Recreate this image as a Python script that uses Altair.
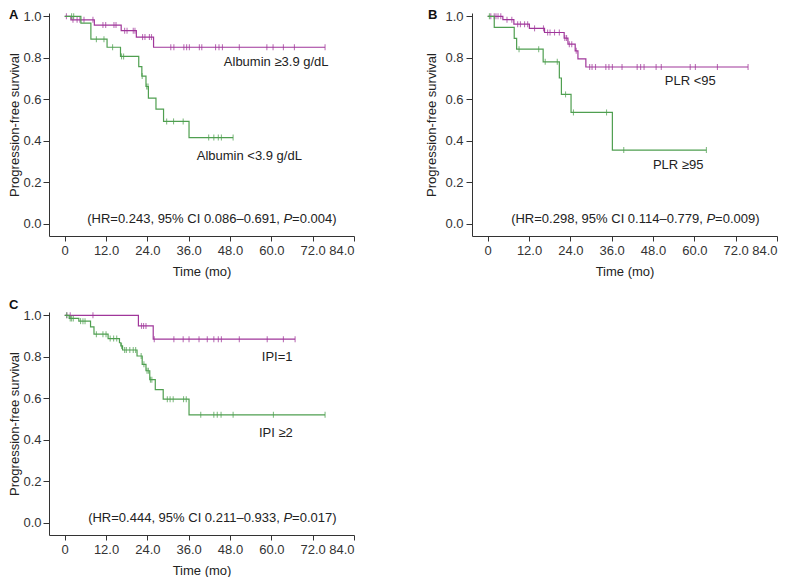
import altair as alt
import pandas as pd

PURPLE = "#A0369A"
GREEN = "#4F9F50"
FONT = "Liberation Sans"

# ---------------- Panel A : Albumin ----------------
a_hi_event_t = [1.8, 8.6, 16.4, 20.8, 25.8]
a_hi_event_s = [0.983, 0.958, 0.931, 0.900, 0.851]
a_hi_censor_t = [0.5, 2.4, 3.6, 4.4, 5.6, 8.2, 11.1, 11.9, 14.3, 14.9, 17.4, 18.1, 19.9,
                 20.4, 22.6, 23.3, 24.6, 25.2, 30.8, 31.7, 34.6, 35.4, 36.2, 39.1, 39.8,
                 43.8, 44.8, 45.8, 50.7, 58.7, 60.5, 63.5, 66.7, 75.6]
a_lo_event_t = [4.7, 7.6, 12.3, 16.2, 21.5, 22.4, 23.6, 24.3, 26.5, 28.7, 36.1]
a_lo_event_s = [0.967, 0.890, 0.851, 0.807, 0.758, 0.712, 0.662, 0.606, 0.553, 0.494, 0.416]
a_lo_censor_t = [2.0, 2.6, 9.2, 11.4, 13.9, 16.5, 17.1, 22.5, 23.8, 24.2, 29.6, 31.6, 34.4,
                 41.8, 43.3, 44.6, 45.5, 48.9]
a_labels = ["Albumin \u22653.9 g/dL", "Albumin <3.9 g/dL"]
a_hr = ["(HR=0.243, 95% CI 0.086\u20130.691,", "P", "=0.004)"]

# ---------------- Panel B : PLR ----------------
b_hi_event_t = [4.4, 7.6, 12.1, 16.5, 22.2, 23.3, 25.4, 26.2, 28.5]
b_hi_event_s = [0.984, 0.962, 0.942, 0.922, 0.895, 0.866, 0.834, 0.795, 0.756]
b_hi_censor_t = [0.9, 1.9, 2.4, 3.0, 3.8, 5.6, 7.0, 8.7, 9.5, 10.7, 11.6, 13.6, 16.2, 17.4,
                 18.1, 19.4, 20.8, 22.4, 22.9, 23.7, 24.4, 25.7, 29.6, 30.3, 31.3, 34.3,
                 35.2, 36.2, 39.0, 43.4, 44.4, 45.4, 48.9, 50.4, 58.8, 60.3, 66.7, 75.6]
b_lo_event_t = [1.9, 7.7, 8.4, 16.1, 20.8, 21.4, 24.2, 36.2]
b_lo_event_s = [0.947, 0.894, 0.842, 0.781, 0.703, 0.624, 0.537, 0.356]
b_lo_censor_t = [0.5, 9.1, 14.8, 16.7, 20.2, 22.6, 24.9, 34.5, 39.5, 63.5]
b_labels = ["PLR <95", "PLR \u226595"]
b_hr = ["(HR=0.298, 95% CI 0.114\u20130.779,", "P", "=0.009)"]

# ---------------- Panel C : IPI ----------------
c_hi_event_t = [21.4, 25.7]
c_hi_event_s = [0.949, 0.885]
c_hi_censor_t = [0.6, 1.6, 8.2, 22.3, 22.9, 23.6, 26.0, 31.7, 34.4, 36.1, 39.0, 41.4, 43.3,
                 44.6, 45.5, 50.7, 58.8, 63.5, 66.9]
c_lo_event_t = [1.3, 4.1, 7.5, 8.5, 12.6, 15.9, 16.3, 16.8, 21.0, 22.5, 23.6, 24.7, 26.3,
                28.6, 36.1]
c_lo_event_s = [0.985, 0.972, 0.944, 0.909, 0.888, 0.868, 0.853, 0.833, 0.804, 0.764,
                0.733, 0.690, 0.642, 0.596, 0.521]
c_lo_censor_t = [0.6, 1.6, 2.0, 2.5, 4.6, 5.3, 5.9, 9.2, 11.1, 12.0, 13.2, 14.2, 15.1, 16.5,
                 17.4, 17.9, 18.9, 19.9, 20.6, 22.2, 23.0, 23.9, 24.3, 24.9, 25.3, 29.8,
                 30.6, 31.5, 34.5, 35.3, 39.5, 43.3, 44.3, 45.4, 48.9, 60.6, 75.6]
c_labels = ["IPI=1", "IPI \u22652"]
c_hr = ["(HR=0.444, 95% CI 0.211\u20130.933,", "P", "=0.017)"]

x_ticks = [0, 12, 24, 36, 48, 60, 72, 84]
y_ticks = [0.0, 0.2, 0.4, 0.6, 0.8, 1.0]

W, H = 305, 223
xscale = alt.Scale(domain=[-4.56, 84], nice=False, zero=False)
yscale = alt.Scale(domain=[-0.058, 1.016], nice=False, zero=False)


def km_frames(event_t, event_s, censor_t):
    end_t = max(censor_t + event_t)
    line = pd.DataFrame({"t": [0.0] + event_t + [end_t],
                         "s": [1.0] + event_s + [event_s[-1]]})

    def surv(t):
        s = 1.0
        for et, es in zip(event_t, event_s):
            if et <= t:
                s = es
        return s

    cens = pd.DataFrame({"t": censor_t, "s": [surv(t) for t in censor_t]})
    return line, cens


def X(field):
    return alt.X(field, type="quantitative", scale=xscale,
                 axis=alt.Axis(title="Time (mo)", values=x_ticks,
                               labelExpr="datum.value == 0 ? '0' : format(datum.value, '.1f')",
                               tickSize=5, labelPadding=3, titlePadding=8, grid=False))


def Y(field, lpad, tpad):
    return alt.Y(field, type="quantitative", scale=yscale,
                 axis=alt.Axis(title="Progression-free survival", values=y_ticks,
                               format=".1f", tickSize=6, labelPadding=lpad, titlePadding=tpad,
                               grid=False))


def panel(hi, lo, labels, label_pos, hr, letter, letter_x, letter_y, lpad, tpad):
    layers = []
    for (et, es, ct), color in ((hi, PURPLE), (lo, GREEN)):
        line_df, cens_df = km_frames(et, es, ct)
        layers.append(alt.Chart(line_df).mark_line(interpolate="step-after", color=color,
                                                   strokeWidth=1.2)
                      .encode(x=X("t"), y=Y("s", lpad, tpad)))
        layers.append(alt.Chart(cens_df).mark_tick(orient="vertical", size=6, thickness=1.1,
                                                   color=color)
                      .encode(x=X("t"), y=Y("s", lpad, tpad)))
    for lab, (lx, ly) in zip(labels, label_pos):
        layers.append(alt.Chart(pd.DataFrame({"label": [lab]}))
                      .mark_text(align="center", baseline="middle", fontSize=13,
                                 color="#222", font=FONT)
                      .encode(x=alt.datum(lx), y=alt.datum(ly), text="label:N"))
    hr_t, hr_s = 63.5, 0.026
    hr_df = pd.DataFrame({"label": hr})
    layers.append(alt.Chart(hr_df.iloc[[0]]).mark_text(align="right", baseline="middle",
                                                       dx=-3.6, fontSize=13, color="#222",
                                                       font=FONT)
                  .encode(x=alt.datum(hr_t), y=alt.datum(hr_s), text="label:N"))
    layers.append(alt.Chart(hr_df.iloc[[1]]).mark_text(align="left", baseline="middle",
                                                       fontSize=13, fontStyle="italic",
                                                       color="#222", font=FONT)
                  .encode(x=alt.datum(hr_t), y=alt.datum(hr_s), text="label:N"))
    layers.append(alt.Chart(hr_df.iloc[[2]]).mark_text(align="left", baseline="middle",
                                                       dx=8.7, fontSize=13, color="#222",
                                                       font=FONT)
                  .encode(x=alt.datum(hr_t), y=alt.datum(hr_s), text="label:N"))
    layers.append(alt.Chart(pd.DataFrame({"label": [letter]}))
                  .mark_text(align="left", baseline="top", fontSize=13, fontWeight="bold",
                             color="#111", font=FONT)
                  .encode(x=alt.value(letter_x), y=alt.value(letter_y), text="label:N"))
    return alt.layer(*layers).properties(width=W, height=H)


pa = panel((a_hi_event_t, a_hi_event_s, a_hi_censor_t),
           (a_lo_event_t, a_lo_event_s, a_lo_censor_t),
           a_labels, [(61.4, 0.778), (53.6, 0.328)], a_hr, "A", -40, -4, 2, 1)
pb = panel((b_hi_event_t, b_hi_event_s, b_hi_censor_t),
           (b_lo_event_t, b_lo_event_s, b_lo_censor_t),
           b_labels, [(58.8, 0.689), (55.3, 0.284)], b_hr, "B", -44, -4, 3, 6)
pc = panel((c_hi_event_t, c_hi_event_s, c_hi_censor_t),
           (c_lo_event_t, c_lo_event_s, c_lo_censor_t),
           c_labels, [(61.7, 0.80), (61.3, 0.433)], c_hr, "C", -40, -13, 2, 1)

chart = (alt.concat(pa, pb, pc, columns=2, spacing={"row": 76, "column": 118},
                    bounds="flush")
         .properties(padding={"top": 1, "left": 0, "right": 0, "bottom": 0})
         .configure(font=FONT)
         .configure_view(stroke=None)
         .configure_axis(domainColor="#333", tickColor="#333", labelColor="#333",
                         titleColor="#222", labelFontSize=13, titleFontSize=13,
                         titleFontWeight="normal", labelFont=FONT, titleFont=FONT,
                         domainWidth=1, tickWidth=1))

chart.save("out.html", embed_options={"renderer": "svg", "actions": False})
